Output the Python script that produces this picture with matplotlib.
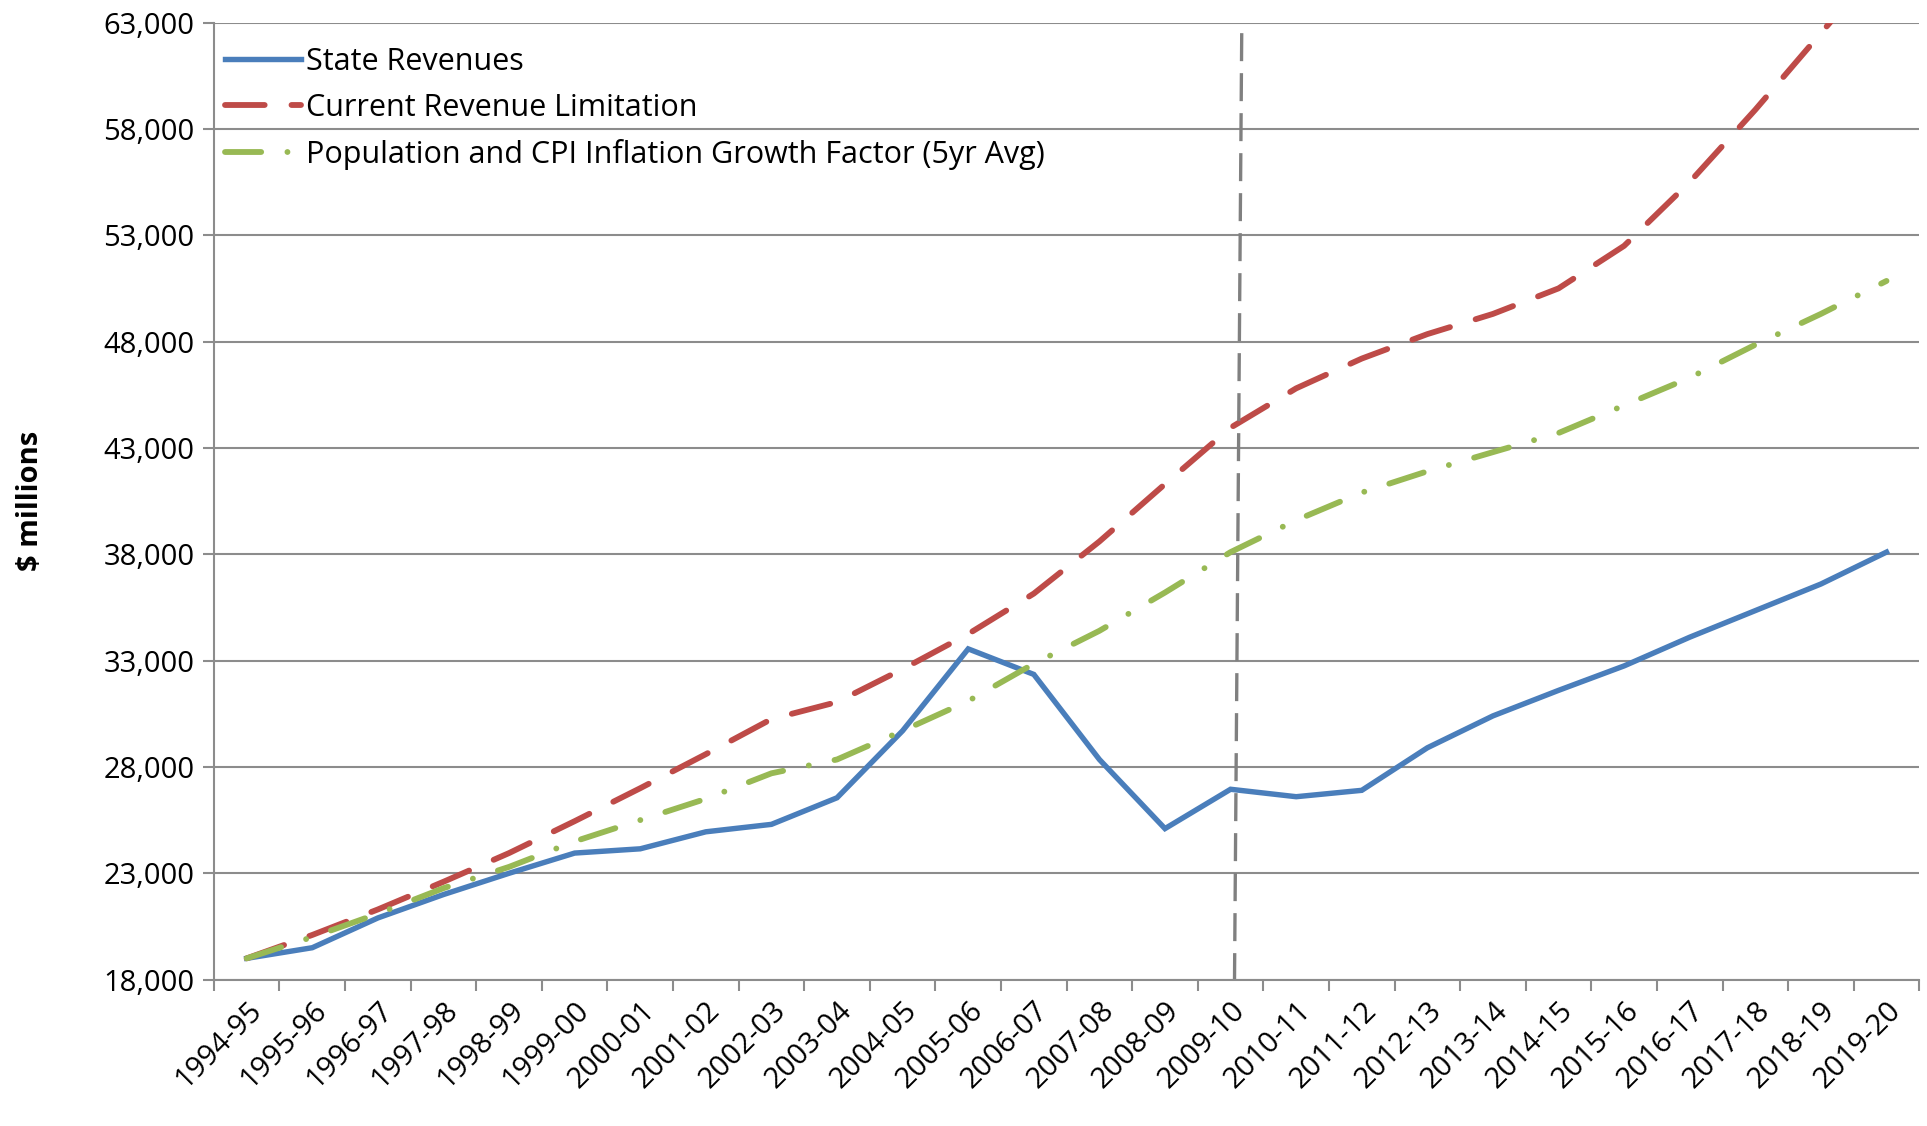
import matplotlib.pyplot as plt
import numpy as np

# Fiscal years on the x axis
years = ['1994-95', '1995-96', '1996-97', '1997-98', '1998-99', '1999-00',
         '2000-01', '2001-02', '2002-03', '2003-04', '2004-05', '2005-06',
         '2006-07', '2007-08', '2008-09', '2009-10', '2010-11', '2011-12',
         '2012-13', '2013-14', '2014-15', '2015-16', '2016-17', '2017-18',
         '2018-19', '2019-20']

# Series values ($ millions)
state_revenues = [19000, 19500, 20900, 22000, 23000, 23950, 24150, 24950,
                  25300, 26550, 29700, 33550, 32350, 28350, 25100, 26950,
                  26600, 26900, 28900, 30400, 31600, 32750, 34100, 35350,
                  36600, 38100]
revenue_limit = [19000, 20100, 21300, 22600, 23950, 25450, 27000, 28600,
                 30250, 31050, 32600, 34250, 36150, 38600, 41300, 43950,
                 45800, 47200, 48350, 49300, 50500, 52500, 55500, 58900,
                 62500, 66100]
pop_cpi = [19000, 20000, 21100, 22300, 23300, 24500, 25500, 26500,
           27700, 28350, 29700, 31100, 32850, 34400, 36200, 38100,
           39600, 40900, 41900, 42800, 43700, 45000, 46300, 47850,
           49300, 50850]

yticks = np.arange(18000, 63001, 5000)

plt.rcParams['font.family'] = ['Open Sans', 'DejaVu Sans']

fig = plt.figure(figsize=(19.27, 11.26), dpi=100)
ax = fig.add_axes([0.111, 0.130, 0.885, 0.850])

x = np.arange(len(years))

ax.plot(x, state_revenues, color='#4A7EBB', lw=3.9, label='State Revenues',
        solid_joinstyle='miter')
ax.plot(x, revenue_limit, color='#BE4B48', lw=4.2, dashes=(6.8, 4.6),
        dash_capstyle='round', label='Current Revenue Limitation')
ax.plot(x, pop_cpi, color='#98B954', lw=4.2, dashes=(6.2, 4.5, 0.01, 4.5),
        dash_capstyle='round',
        label='Population and CPI Inflation Growth Factor (5yr Avg)')

# vertical marker between actuals and projections
ax.plot([15.17, 15.06], [62500, 18000], color='#808080', lw=2.4,
        dashes=(8.4, 3.6))

ax.set_xlim(-0.5, len(years) - 0.5)
ax.set_ylim(18000, 63000)
ax.set_yticks(yticks)
ax.set_yticklabels([f'{v:,}' for v in yticks])
ax.yaxis.grid(True, color='#8C8C8C', lw=1.5)
ax.set_axisbelow(True)

ax.set_xticks(x)
ax.set_xticklabels(years, rotation=45, ha='right', rotation_mode='anchor')
ax.set_xticks(np.arange(-0.5, len(years)), minor=True)
ax.tick_params(axis='x', which='major', length=0, labelsize=21, pad=12)
ax.tick_params(axis='x', which='minor', length=8, color='#8C8C8C', width=1.5)
ax.tick_params(axis='y', length=8, color='#8C8C8C', width=1.5, labelsize=21,
               pad=6)

for s in ['top', 'right']:
    ax.spines[s].set_visible(False)
for s in ['left', 'bottom']:
    ax.spines[s].set_color('#8C8C8C')
    ax.spines[s].set_linewidth(1.5)

ax.set_ylabel('$ millions', fontsize=21, fontweight='bold', labelpad=42)

ax.legend(loc='upper left', bbox_to_anchor=(-0.006, 0.997), frameon=False,
          fontsize=22, handlelength=2.5, labelspacing=0.52,
          borderaxespad=0.3, handletextpad=0.15)

fig.savefig('out.png', dpi=100)
